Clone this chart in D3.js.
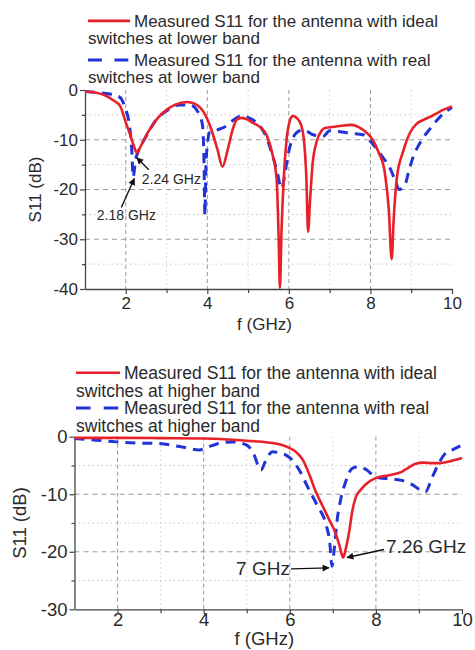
<!DOCTYPE html>
<html><head><meta charset="utf-8">
<script src="https://cdn.jsdelivr.net/npm/d3@7"></script>
<style>
body{margin:0;background:#fff}
svg{display:block}
text{font-family:"Liberation Sans",Arial,Helvetica,sans-serif;fill:#2a2a2a}
</style>
</head><body>
<svg id="chart" width="475" height="650"></svg>
<script>
// ---------- DATA ----------
// Lower band panel
const lowIdealFreq = [1.0,1.25,1.5,1.7,1.86,2.0,2.1,2.2,2.27,2.35,2.5,2.6,2.8,3.0,3.2,3.5,3.7,3.82,3.95,4.1,4.25,4.37,4.5,4.62,4.72,4.84,5.0,5.12,5.3,5.45,5.6,5.7,5.75,5.78,5.82,5.88,5.95,6.02,6.1,6.2,6.3,6.38,6.43,6.47,6.52,6.58,6.68,6.8,6.9,7.0,7.2,7.54,7.7,7.85,8.03,8.2,8.35,8.45,8.52,8.57,8.65,8.8,8.97,9.13,9.3,9.46,9.6,9.78,10.0];
const lowIdealS11 = [-0.3,-0.5,-1.1,-2.1,-3.2,-6.5,-8.8,-11.3,-12.6,-11.6,-9.1,-7.8,-5.5,-4.0,-3.0,-2.4,-2.8,-3.5,-5.0,-8.0,-12.0,-15.4,-12.0,-8.0,-6.0,-5.6,-6.0,-6.6,-7.5,-9.0,-13.0,-18.0,-30.0,-39.8,-28.0,-17.0,-9.5,-6.3,-5.2,-5.7,-7.0,-11.0,-18.0,-28.5,-22.0,-15.0,-10.4,-8.2,-7.6,-7.5,-7.3,-7.0,-7.4,-8.2,-9.7,-12.5,-16.5,-24.0,-34.0,-26.0,-17.5,-12.4,-8.6,-6.8,-6.0,-5.4,-4.8,-4.0,-3.3];
const lowRealFreq = [1.0,1.4,1.7,1.86,1.98,2.1,2.15,2.18,2.24,2.3,2.5,2.7,3.0,3.3,3.57,3.77,3.88,3.92,3.94,3.97,4.06,4.25,4.47,4.65,4.84,5.04,5.2,5.33,5.45,5.57,5.7,5.82,5.9,5.98,6.08,6.2,6.35,6.6,6.84,7.0,7.25,7.5,7.82,8.07,8.3,8.48,8.62,8.7,8.84,8.95,9.05,9.21,9.46,9.62,9.78,10.0];
const lowRealS11 = [-0.3,-0.6,-1.0,-1.5,-3.5,-7.7,-12.5,-17.5,-14.0,-12.5,-9.3,-6.5,-4.2,-3.0,-3.0,-4.4,-7.0,-15.0,-25.2,-14.0,-8.5,-8.0,-7.2,-6.0,-5.2,-5.7,-6.5,-7.7,-9.5,-12.4,-16.0,-19.8,-17.0,-13.0,-10.0,-8.5,-8.0,-9.0,-9.3,-8.2,-8.4,-8.7,-9.0,-11.0,-13.5,-15.7,-18.5,-20.0,-19.2,-16.0,-13.4,-10.7,-7.8,-6.2,-4.8,-3.5];
// Higher band panel
const highIdealFreq = [1.0,2.0,3.0,4.0,4.6,5.0,5.5,5.8,6.0,6.14,6.3,6.45,6.6,6.76,6.92,7.05,7.15,7.24,7.3,7.38,7.45,7.53,7.65,7.76,7.99,8.3,8.6,8.75,8.92,9.1,9.3,9.5,9.7,10.0];
const highIdealS11 = [-0.2,-0.2,-0.25,-0.3,-0.5,-0.7,-1.0,-1.4,-2.0,-2.6,-4.0,-6.5,-9.5,-12.0,-14.5,-16.5,-18.8,-21.0,-19.5,-16.5,-13.0,-10.6,-9.2,-8.3,-7.2,-6.7,-6.1,-5.4,-4.7,-4.5,-4.6,-4.6,-4.3,-3.7];
const highRealFreq = [1.0,1.5,1.97,2.5,2.98,3.44,3.9,4.1,4.29,4.68,4.99,5.15,5.33,5.45,5.6,5.75,5.91,6.05,6.22,6.4,6.64,6.84,6.93,6.98,7.04,7.1,7.18,7.3,7.45,7.6,7.79,7.95,8.1,8.3,8.6,8.9,9.05,9.15,9.3,9.45,9.6,9.8,9.96];
const highRealS11 = [-0.3,-0.6,-0.9,-1.1,-1.2,-1.7,-2.3,-1.8,-1.3,-0.9,-1.4,-2.8,-5.8,-4.0,-2.6,-2.8,-3.2,-4.0,-5.8,-8.5,-12.0,-15.2,-18.5,-22.5,-19.0,-14.5,-11.0,-7.8,-5.5,-5.2,-5.8,-6.8,-7.2,-7.3,-7.6,-8.6,-9.4,-9.6,-7.2,-4.8,-3.0,-2.2,-1.6];

const xTicks = [2,4,6,8,10];
const xMinorTicks = [3,5,7,9];
const lowYTicks = [0,-10,-20,-30,-40];
const lowYMinor = [-5,-15,-25,-35];
const highYTicks = [0,-10,-20,-30];
const highYMinor = [-5,-15,-25];

const lowLegend = [
  ["Measured S11 for the antenna with ideal","switches at lower band"],
  ["Measured S11 for the antenna with real","switches at lower band"]
];
const highLegend = [
  ["Measured S11 for the antenna with ideal","switches at higher band"],
  ["Measured S11 for the antenna with real","switches at higher band"]
];
const lowAnnLabels = ["2.24 GHz","2.18 GHz"];
const lowAnnFreq = [2.27,2.21];
const lowAnnS11 = [-13.6,-17.8];
const highAnnLabels = ["7.26 GHz","7 GHz"];
const highAnnFreq = [7.33,6.91];
const highAnnS11 = [-21.0,-22.8];

const xLabel = "f (GHz)";
const yLabel = "S11 (dB)";

// ---------- DRAW ----------
const RED = "#e8202a", BLUE = "#2233d8";
const svg = d3.select("#chart");
svg.append("rect").attr("width",475).attr("height",650).attr("fill","#fff");

const defs = svg.append("defs");
defs.append("marker").attr("id","arr").attr("viewBox","0 0 10 10")
  .attr("refX",9).attr("refY",5).attr("markerWidth",9).attr("markerHeight",7)
  .attr("markerUnits","userSpaceOnUse").attr("orient","auto")
  .append("path").attr("d","M0,0 L10,5 L0,10 Z").attr("fill","#111");

function panel(cfg){
  const g = svg.append("g");
  const x = d3.scaleLinear().domain([1,10]).range([cfg.left,cfg.right]);
  const y = d3.scaleLinear().domain([cfg.ymin,0]).range([cfg.bottom,cfg.top]);
  const fs = cfg.fs;

  // grid
  const grid = g.append("g");
  grid.selectAll(".hmaj").data(cfg.yTicks.filter(v=>v!==0 && v!==cfg.ymin)).join("line")
    .attr("x1",cfg.left).attr("x2",cfg.right).attr("y1",d=>y(d)).attr("y2",d=>y(d))
    .attr("stroke","#9a9a9a").attr("stroke-width",1).attr("stroke-dasharray","5,4");
  grid.selectAll(".hmin").data(cfg.yMinor).join("line")
    .attr("x1",cfg.left).attr("x2",cfg.right).attr("y1",d=>y(d)).attr("y2",d=>y(d))
    .attr("stroke","#c8c8c8").attr("stroke-width",1).attr("stroke-dasharray","1.5,3");
  grid.selectAll(".vmaj").data(xTicks.filter(v=>v<10)).join("line")
    .attr("y1",cfg.top).attr("y2",cfg.bottom).attr("x1",d=>x(d)).attr("x2",d=>x(d))
    .attr("stroke","#9a9a9a").attr("stroke-width",1).attr("stroke-dasharray","4,3");
  grid.selectAll(".vmin").data(xMinorTicks).join("line")
    .attr("y1",cfg.top).attr("y2",cfg.bottom).attr("x1",d=>x(d)).attr("x2",d=>x(d))
    .attr("stroke","#cfcfcf").attr("stroke-width",1).attr("stroke-dasharray","1.5,3");

  // axes
  g.append("g").attr("transform",`translate(0,${cfg.bottom})`)
    .call(d3.axisBottom(x).tickValues(xTicks).tickFormat(d3.format("d")).tickSize(5).tickSizeOuter(0).tickPadding(cfg.xPad));
  g.append("g").attr("transform",`translate(0,${cfg.bottom})`)
    .call(d3.axisBottom(x).tickValues(xMinorTicks).tickFormat("").tickSize(4).tickSizeOuter(0))
    .call(s=>s.select(".domain").remove());
  const ya = g.append("g").attr("transform",`translate(${cfg.left},0)`)
    .call(d3.axisLeft(y).tickValues(cfg.yTicks).tickFormat(d3.format("d")).tickSize(5).tickSizeOuter(0).tickPadding(2));
  g.append("g").attr("transform",`translate(${cfg.left},0)`)
    .call(d3.axisLeft(y).tickValues(cfg.yMinor).tickFormat("").tickSize(3).tickSizeOuter(0))
    .call(s=>s.select(".domain").remove());
  g.selectAll(".domain").attr("stroke","#444").attr("stroke-width",1.3);
  g.selectAll(".tick line").attr("stroke","#444").attr("stroke-width",1.2);
  g.selectAll(".tick text").attr("font-size",fs).attr("fill","#2a2a2a")
    .attr("font-family","'Liberation Sans',Arial,sans-serif");
  ya.selectAll(".tick text").text(d=>d===0?"0":"-"+Math.abs(d));

  // axis labels
  g.append("text").attr("x",(cfg.left+cfg.right)/2 - 4).attr("y",cfg.xlabY)
    .attr("text-anchor","middle").attr("font-size",fs).text(xLabel);
  g.append("text").attr("transform",`translate(${cfg.ylabX},${(cfg.top+cfg.bottom)/2}) rotate(-90)`)
    .attr("text-anchor","middle").attr("font-size",fs).text(yLabel);

  // lines
  const line = d3.line().x(d=>x(d[0])).y(d=>y(d[1])).curve(d3.curveMonotoneX);
  const ideal = cfg.idealF.map((f,i)=>[f,cfg.idealV[i]]);
  const real = cfg.realF.map((f,i)=>[f,cfg.realV[i]]);
  g.append("path").datum(real).attr("d",line).attr("fill","none")
    .attr("stroke",BLUE).attr("stroke-width",3).attr("stroke-dasharray","10,7");
  g.append("path").datum(ideal).attr("d",line).attr("fill","none")
    .attr("stroke",RED).attr("stroke-width",2.6).attr("stroke-linejoin","round");

  // legend
  const lg = g.append("g");
  cfg.legend.forEach((lines,i)=>{
    const by = cfg.legTop + i*cfg.legEntry;
    if(i===0){
      lg.append("line").attr("x1",cfg.legX).attr("x2",cfg.legX+cfg.swatch)
        .attr("y1",by-cfg.fsL*0.36).attr("y2",by-cfg.fsL*0.36)
        .attr("stroke",RED).attr("stroke-width",2.6);
    } else {
      lg.append("line").attr("x1",cfg.legX).attr("x2",cfg.legX+cfg.swatch)
        .attr("y1",by-cfg.fsL*0.36).attr("y2",by-cfg.fsL*0.36)
        .attr("stroke",BLUE).attr("stroke-width",3).attr("stroke-dasharray",`${cfg.swatch*0.33},${cfg.swatch*0.3}`);
    }
    lg.append("text").attr("x",cfg.legX+cfg.swatch+4).attr("y",by).attr("font-size",cfg.fsL).text(lines[0]);
    lg.append("text").attr("x",cfg.legX).attr("y",by+cfg.legLine).attr("font-size",cfg.fsL).text(lines[1]);
  });

  // annotations
  cfg.ann.forEach((a,i)=>{
    const hx = x(cfg.annF[i]), hy = y(cfg.annV[i]);
    const tx = hx + a.dx, ty = hy + a.dy;
    g.append("line").attr("x1",tx).attr("y1",ty).attr("x2",hx).attr("y2",hy)
      .attr("stroke","#111").attr("stroke-width",1.4).attr("marker-end","url(#arr)");
    g.append("text").attr("x",tx + a.tx).attr("y",ty + a.ty)
      .attr("text-anchor",a.anchor).attr("font-size",cfg.fsA).text(cfg.annL[i]);
  });
}

panel({
  left:85,right:452,top:90,bottom:289,ymin:-40,
  yTicks:lowYTicks,yMinor:lowYMinor,fs:17,fsL:17,fsA:14,xPad:3,
  xlabY:330,ylabX:41,
  idealF:lowIdealFreq,idealV:lowIdealS11,realF:lowRealFreq,realV:lowRealS11,
  legend:lowLegend,legX:88,swatch:42,legTop:27,legEntry:39,legLine:17,
  annL:lowAnnLabels,annF:lowAnnFreq,annV:lowAnnS11,
  ann:[{dx:12,dy:12,tx:-7,ty:14,anchor:"start"},{dx:-13,dy:29,tx:5,ty:12,anchor:"middle"}]
});
panel({
  left:74.5,right:462,top:436.7,bottom:609.3,ymin:-30,
  yTicks:highYTicks,yMinor:highYMinor,fs:18.5,fsL:17.5,fsA:19,xPad:-1,
  xlabY:645,ylabX:26,
  idealF:highIdealFreq,idealV:highIdealS11,realF:highRealFreq,realV:highRealS11,
  legend:highLegend,legX:76,swatch:44,legTop:379,legEntry:35.2,legLine:17.6,
  annL:highAnnLabels,annF:highAnnFreq,annV:highAnnS11,
  ann:[{dx:37,dy:-8,tx:2,ty:3,anchor:"start"},{dx:-38,dy:1,tx:-1,ty:6,anchor:"end"}]
});
</script>
</body></html>
